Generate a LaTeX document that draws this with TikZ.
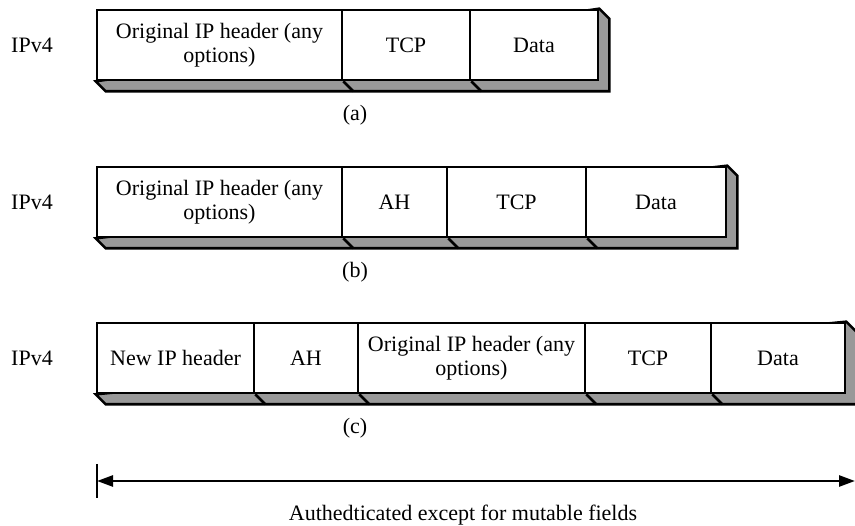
\documentclass[tikz,border=0pt]{standalone}
\usepackage{fontspec}
\setmainfont{Liberation Serif}
\usetikzlibrary{calc,arrows.meta,backgrounds}
\definecolor{shadowgray}{gray}{0.6}
\begin{document}
\begin{tikzpicture}[x=1pt,y=-1pt,
  lw/.style={line width=2.6pt},
  txt/.style={font=\fontsize{22}{24.5}\selectfont},
  cell/.style={draw,lw,fill=white,minimum height=70pt,inner sep=0pt,align=center,txt},
  lbl/.style={inner sep=0pt,txt},
  shade/.style={draw,lw,fill=shadowgray,line join=miter},
  edge3d/.style={lw},
]
\useasboundingbox (0,0) rectangle (855,526);
\def\dd{10}

% ---- row (a) ----
\node[cell,minimum width=245pt] (a1) at (219.5,45) {Original IP header (any\\options)};
\node[cell,minimum width=128pt] (a2) at (406,45) {TCP};
\node[cell,minimum width=128pt] (a3) at (534,45) {Data};

% ---- row (b) ----
\node[cell,minimum width=245pt] (b1) at (219.5,202) {Original IP header (any\\options)};
\node[cell,minimum width=105pt] (b2) at (394.5,202) {AH};
\node[cell,minimum width=139pt] (b3) at (516.5,202) {TCP};
\node[cell,minimum width=140pt] (b4) at (656,202) {Data};

% ---- row (c) ----
\node[cell,minimum width=157pt] (c1) at (175.5,358) {New IP header};
\node[cell,minimum width=104pt] (c2) at (306,358) {AH};
\node[cell,minimum width=227pt] (c3) at (471.5,358) {Original IP header (any\\options)};
\node[cell,minimum width=126pt] (c4) at (648,358) {TCP};
\node[cell,minimum width=134pt] (c5) at (778,358) {Data};

% ---- 3-D shadows under each row, behind the cells ----
\begin{scope}[on background layer]
\path[shade] (a1.south west) -- ++(\dd,\dd) -- ($(a3.south east)+(\dd,\dd)$)
  -- ($(a3.north east)+(\dd,\dd)$) -- (a3.north east) -- cycle;
\foreach \n in {a1,a2}{\draw[edge3d] (\n.south east) -- ++(\dd,\dd);}

\path[shade] (b1.south west) -- ++(\dd,\dd) -- ($(b4.south east)+(\dd,\dd)$)
  -- ($(b4.north east)+(\dd,\dd)$) -- (b4.north east) -- cycle;
\foreach \n in {b1,b2,b3}{\draw[edge3d] (\n.south east) -- ++(\dd,\dd);}

\path[shade] (c1.south west) -- ++(\dd,\dd) -- ($(c5.south east)+(\dd,\dd)$)
  -- ($(c5.north east)+(\dd,\dd)$) -- (c5.north east) -- cycle;
\foreach \n in {c1,c2,c3,c4}{\draw[edge3d] (\n.south east) -- ++(\dd,\dd);}
\end{scope}

% ---- side and caption labels ----
\node[lbl] (ipa) at (32,45) {IPv4};
\node[lbl] (ipb) at (32,202) {IPv4};
\node[lbl] (ipc) at (32,358) {IPv4};
\node[lbl] (capa) at (355,115) {(a)};
\node[lbl] (capb) at (355,272) {(b)};
\node[lbl] (capc) at (355,428) {(c)};

% ---- coverage arrow ----
\coordinate (bl) at (97,481);
\coordinate (er) at (855,481);
\draw[lw] ($(bl)+(0,-17)$) -- ($(bl)+(0,17)$);
\draw[lw,{Triangle[length=16pt,width=11pt]}-{Triangle[length=16pt,width=11pt]}] (bl) -- (er);
\node[lbl] (cov) at (463,515) {Authedticated except for mutable fields};
\end{tikzpicture}
\end{document}
